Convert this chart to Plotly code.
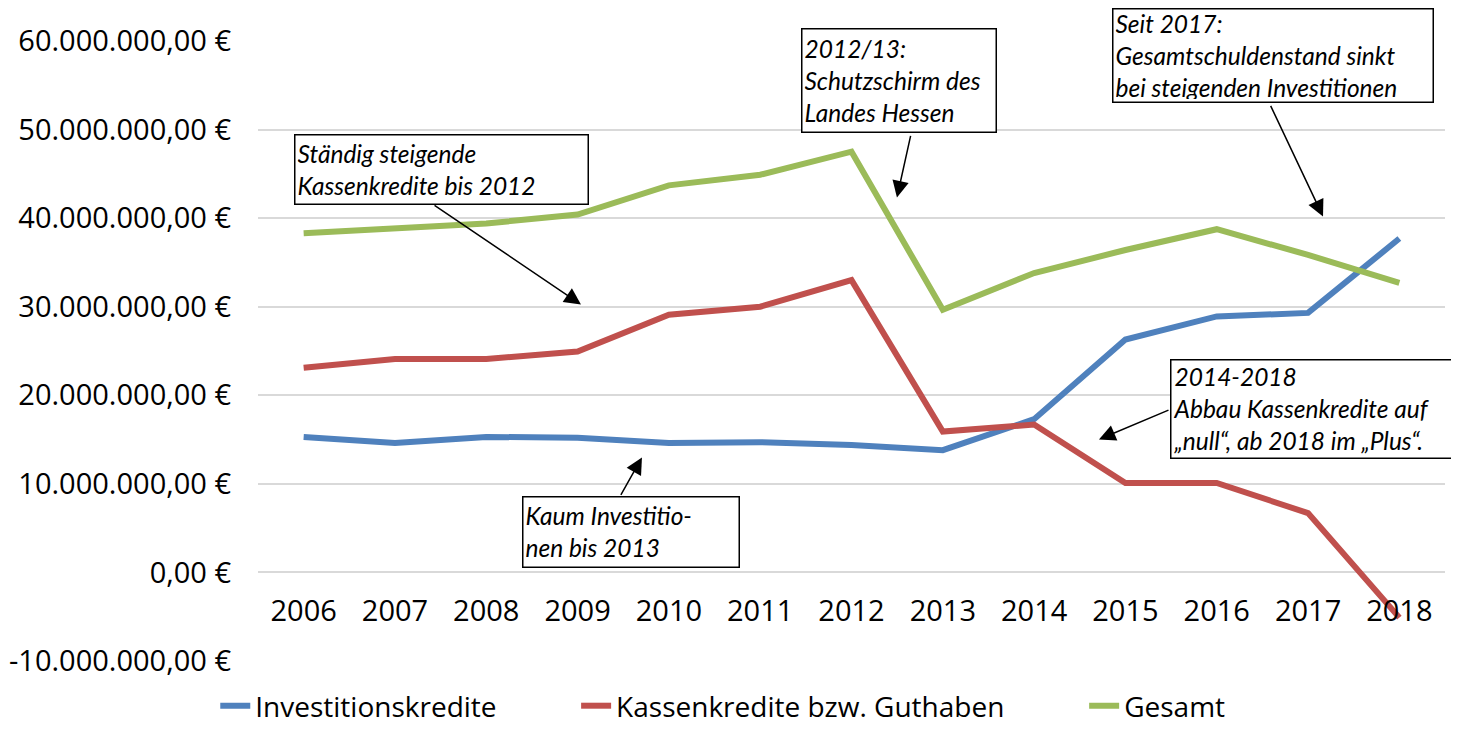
import plotly.graph_objects as go

years = ["2006", "2007", "2008", "2009", "2010", "2011", "2012",
         "2013", "2014", "2015", "2016", "2017", "2018"]

investitionskredite = [15.3e6, 14.6e6, 15.3e6, 15.2e6, 14.6e6, 14.7e6, 14.4e6,
                       13.8e6, 17.3e6, 26.3e6, 28.9e6, 29.3e6, 37.7e6]
kassenkredite = [23.1e6, 24.1e6, 24.1e6, 24.95e6, 29.1e6, 30.0e6, 33.0e6,
                 15.9e6, 16.7e6, 10.1e6, 10.1e6, 6.7e6, -5.1e6]
gesamt = [38.3e6, 38.8e6, 39.4e6, 40.4e6, 43.7e6, 44.9e6, 47.5e6,
          29.65e6, 33.8e6, 36.4e6, 38.75e6, 35.85e6, 32.7e6]

y_ticks = [-10e6, 0, 10e6, 20e6, 30e6, 40e6, 50e6, 60e6]
y_tick_labels = ["-10.000.000,00 €", "0,00 €", "10.000.000,00 €", "20.000.000,00 €",
                 "30.000.000,00 €", "40.000.000,00 €", "50.000.000,00 €", "60.000.000,00 €"]

series = [
    ("Investitionskredite", investitionskredite, "#4F81BD", "legend", -0.036),
    ("Kassenkredite bzw. Guthaben", kassenkredite, "#C0504D", "legend2", 0.268),
    ("Gesamt", gesamt, "#9BBB59", "legend3", 0.696),
]

fig = go.Figure()
for name, values, color, leg, _ in series:
    fig.add_trace(
        go.Scatter(
            x=years,
            y=values,
            name=name,
            mode="lines",
            line=dict(color=color, width=6),
            cliponaxis=False,
            legend=leg,
        )
    )

# text boxes: (x index, y value, anchor, box width, box height, text)
notes = [
    (-0.106, 49.45e6, "top", 293, 69, "Ständig steigende<br>Kassenkredite bis 2012"),
    (5.447, 49.56e6, "bottom", 194, 103, "2012/13:<br>Schutzschirm des<br>Landes Hessen"),
    (8.853, 52.95e6, "bottom", 320, 93, "Seit 2017:<br>Gesamtschuldenstand sinkt<br>bei steigenden Investitionen"),
    (9.488, 24.05e6, "top", 289, 98, "2014-2018<br>Abbau Kassenkredite auf<br>„null“, ab 2018 im „Plus“."),
    (2.391, 8.58e6, "top", 216, 70, "Kaum Investitio-<br>nen bis 2013"),
]
# arrows: tail (x, y) -> tip (x, y)
arrows = [
    ((1.417, 41.55e6), (3.037, 30.26e6)),
    ((6.651, 49.45e6), (6.498, 42.34e6)),
    ((10.583, 52.84e6), (11.164, 40.19e6)),
    ((9.488, 18.40e6), (8.710, 15.02e6)),
    ((3.465, 8.58e6), (3.705, 12.98e6)),
]

for x, y, anchor, w, h, text in notes:
    fig.add_annotation(
        x=x, y=y, xref="x", yref="y",
        xanchor="left", yanchor=anchor,
        text=text, showarrow=False,
        align="left", valign="middle",
        width=w - 5.5, height=h - 5.5,
        borderpad=2, bordercolor="black", borderwidth=1.5,
        bgcolor="white",
        font=dict(family="Lato", size=24.5, color="black", style="italic"),
    )

for (ax, ay), (x, y) in arrows:
    fig.add_annotation(
        x=x, y=y, ax=ax, ay=ay,
        xref="x", yref="y", axref="x", ayref="y",
        text="", showarrow=True,
        arrowhead=2, arrowsize=2.2, arrowwidth=1.5, arrowcolor="black",
    )

legend_style = dict(
    orientation="h",
    xanchor="left",
    y=-70 / 620,
    yanchor="bottom",
    font=dict(size=28, color="black"),
    bgcolor="rgba(0,0,0,0)",
)

# the page body adds an 8px offset, so the figure is drawn 8px smaller
fig.update_layout(
    width=1451,
    height=723,
    plot_bgcolor="white",
    paper_bgcolor="white",
    margin=dict(l=250, r=14, t=33, b=70, autoexpand=False),
    font=dict(family="Open Sans", color="black"),
    xaxis=dict(
        type="category",
        range=[-0.5, 12.5],
        anchor="free",
        position=10 / 70,
        automargin=False,
        showgrid=False,
        showline=False,
        ticks="",
        ticklabelstandoff=19,
        tickfont=dict(size=29, color="black"),
    ),
    yaxis=dict(
        range=[-10e6, 60e6],
        automargin=False,
        tickvals=y_ticks,
        ticktext=y_tick_labels,
        showgrid=True,
        gridcolor="#d9d9d9",
        gridwidth=2,
        zeroline=True,
        zerolinecolor="#d9d9d9",
        zerolinewidth=2,
        ticks="",
        ticklabelstandoff=26,
        tickfont=dict(size=29, color="black"),
    ),
    showlegend=True,
    legend=dict(x=series[0][4], **legend_style),
    legend2=dict(x=series[1][4], **legend_style),
    legend3=dict(x=series[2][4], **legend_style),
)

fig.write_html("out.html")
